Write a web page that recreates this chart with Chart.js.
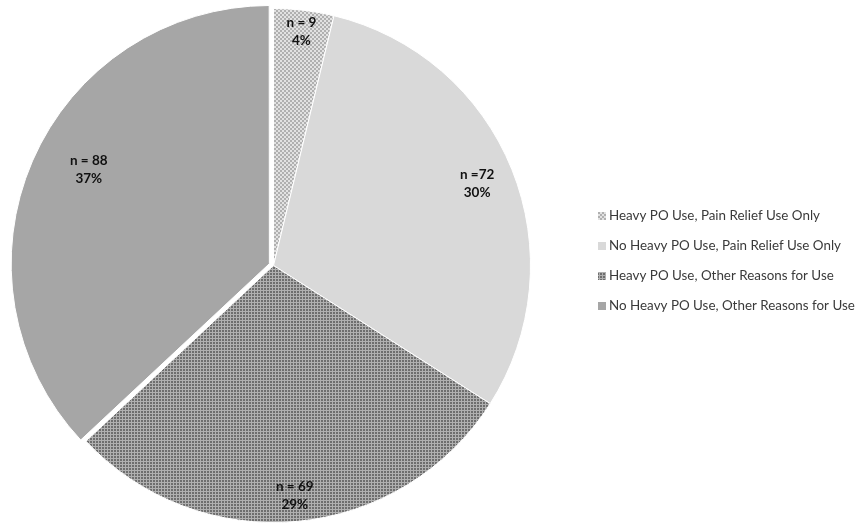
<!DOCTYPE html>
<html>
<head>
<meta charset="utf-8">
<script src="https://cdn.jsdelivr.net/npm/chart.js@4.4.0/dist/chart.umd.min.js"></script>
<style>
  html, body { margin: 0; padding: 0; background: #fff; }
  #wrap { width: 861px; height: 524px; position: relative; }
</style>
</head>
<body>
<div id="wrap"><canvas id="pieCanvas"></canvas></div>
<script>
// data
const categories = [
  'Heavy PO Use, Pain Relief Use Only',
  'No Heavy PO Use, Pain Relief Use Only',
  'Heavy PO Use, Other Reasons for Use',
  'No Heavy PO Use, Other Reasons for Use'
];
const counts = [9, 72, 69, 88];
const countLabels = ['n = 9', 'n =72', 'n = 69', 'n = 88'];
const percentLabels = ['4%', '30%', '29%', '37%'];

const canvas = document.getElementById('pieCanvas');
const ctx = canvas.getContext('2d');

// small pixel tiles to mimic the Excel pattern fills
function makePattern(size, bg, fg, isFg) {
  const tile = document.createElement('canvas');
  tile.width = tile.height = size;
  const g = tile.getContext('2d');
  g.fillStyle = bg;
  g.fillRect(0, 0, size, size);
  g.fillStyle = fg;
  for (let y = 0; y < size; y++) {
    for (let x = 0; x < size; x++) {
      if (isFg(x, y)) g.fillRect(x, y, 1, 1);
    }
  }
  return ctx.createPattern(tile, 'repeat');
}

// light weave for slice 1, dark dots for slice 3
const weave = makePattern(4, '#b0b0b0', '#e2e2e2', (x, y) => ((x >> 1) + (y >> 1)) % 2 === 0);
const dots = makePattern(3, '#b0b0b0', '#6e6e6e', (x, y) => x < 2 && y < 2);
const sliceColors = [weave, '#d9d9d9', dots, '#a6a6a6'];

// n / % labels inside each slice
const sliceLabels = {
  id: 'sliceLabels',
  afterDatasetsDraw(chart, args, opts) {
    const c = chart.ctx;
    const meta = chart.getDatasetMeta(0);
    c.save();
    c.font = 'bold 13.5px Lato';
    c.fillStyle = '#111';
    c.textAlign = 'center';
    c.textBaseline = 'middle';
    meta.data.forEach((arc, i) => {
      const p = arc.getProps(['x', 'y', 'startAngle', 'endAngle', 'outerRadius'], true);
      const mid = (p.startAngle + p.endAngle) / 2 + opts.nudge[i] * Math.PI / 180;
      const r = p.outerRadius * opts.radius[i];
      const cx = p.x + Math.cos(mid) * r;
      const cy = p.y + Math.sin(mid) * r;
      c.fillText(countLabels[i], cx, cy - 9);
      c.fillText(percentLabels[i], cx, cy + 9);
    });
    c.restore();
  }
};

// legend drawn at a fixed spot to the right of the pie
const sideLegend = {
  id: 'sideLegend',
  afterDraw(chart, args, opts) {
    const c = chart.ctx;
    const colors = chart.data.datasets[0].backgroundColor;
    c.save();
    c.font = '13.4px Lato';
    c.textBaseline = 'middle';
    chart.data.labels.forEach((label, i) => {
      const y = opts.top + i * opts.gap;
      c.fillStyle = colors[i];
      c.fillRect(opts.x, y - 4, 8, 8);
      c.fillStyle = '#3a3a3a';
      c.fillText(label, opts.x + 11, y);
    });
    c.restore();
  }
};

new Chart(ctx, {
  type: 'pie',
  data: {
    labels: categories,
    datasets: [{
      data: counts,
      backgroundColor: sliceColors,
      borderColor: '#ffffff',
      borderWidth: 1,
      offset: [0, 0, 0, 18]
    }]
  },
  options: {
    responsive: true,
    maintainAspectRatio: false,
    animation: false,
    radius: 257,
    layout: { padding: { left: 0, right: 314, top: 8, bottom: 1 } },
    plugins: {
      legend: { display: false },
      tooltip: { enabled: false },
      sliceLabels: { radius: [0.916, 0.854, 0.898, 0.81], nudge: [0, 0, 0, 4] },
      sideLegend: { x: 598, top: 216, gap: 30 }
    }
  },
  plugins: [sliceLabels, sideLegend]
});
</script>
</body>
</html>
